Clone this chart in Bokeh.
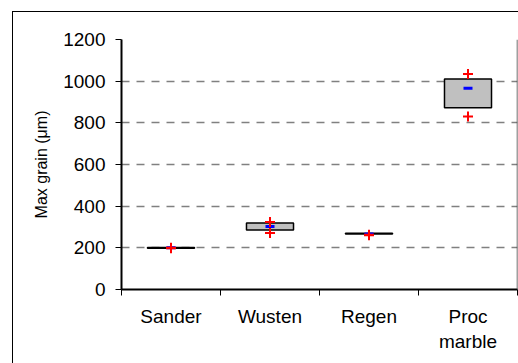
from bokeh.plotting import figure
from bokeh.models import FixedTicker, Range1d, Span
from bokeh.embed import file_html
from bokeh.resources import INLINE

categories = ["Sander", "Wusten", "Regen", "Proc\nmarble"]
q1 = [198, 286, 266, 872]
q3 = [202, 319, 270, 1010]
mean = [200, 303, 266, 966]
vmin = [198, 271, 261, 830]
vmax = [201, 324, 263, 1034]
y_ticks = [0, 200, 400, 600, 800, 1000, 1200]

xs = [i + 1 for i in range(len(categories))]

p = figure(width=506, height=352, output_backend="svg", toolbar_location=None,
           x_range=Range1d(0.5, 4.5), y_range=Range1d(0, 1200),
           min_border_left=108, min_border_right=2, min_border_top=27, min_border_bottom=75)
p.styles = {"margin-left": "12px", "margin-top": "11px",
            "border-left": "1.5px solid black", "border-top": "1.5px solid black"}
p.outline_line_color = None
p.background_fill_color = "white"
p.border_fill_color = "white"

# grid
p.xgrid.visible = False
p.ygrid.ticker = FixedTicker(ticks=[200, 400, 600, 800, 1000, 1200])
p.ygrid.grid_line_color = "#808080"
p.ygrid.grid_line_width = 1.6
p.ygrid.grid_line_dash = "8 7"

font = "Liberation Sans"
# y axis
ya = p.yaxis[0]
ya.ticker = FixedTicker(ticks=y_ticks)
ya.axis_line_color = "black"
ya.axis_line_width = 2
ya.major_tick_line_color = "black"
ya.major_tick_line_width = 1
ya.major_tick_out = 6
ya.major_tick_in = 0
ya.minor_tick_line_color = None
ya.major_label_text_font = font
ya.major_label_text_font_size = "19px"
ya.major_label_text_color = "black"
ya.major_label_standoff = 10
ya.axis_label = "Max grain (μm)"
ya.axis_label_text_font = font
ya.axis_label_text_font_size = "16px"
ya.axis_label_text_font_style = "normal"
ya.axis_label_text_color = "black"
ya.axis_label_standoff = 10

# x axis
xa = p.xaxis[0]
xa.ticker = FixedTicker(ticks=xs, minor_ticks=[0.5, 1.5, 2.5, 3.5, 4.5])
xa.major_label_overrides = {x: c for x, c in zip(xs, categories)}
xa.axis_line_color = "black"
xa.axis_line_width = 2
xa.major_tick_line_color = None
xa.major_tick_out = 0
xa.major_tick_in = 0
xa.minor_tick_line_color = "black"
xa.minor_tick_line_width = 1
xa.minor_tick_out = 6
xa.minor_tick_in = 0
xa.major_label_text_font = font
xa.major_label_text_font_size = "19px"
xa.major_label_text_color = "black"
xa.major_label_standoff = 10

# right border of plot area
p.add_layout(Span(location=4.5, dimension="height", line_color="#404040", line_width=1.5))

# boxes
p.vbar(x=xs, width=0.475, bottom=q1, top=q3, fill_color="#C0C0C0",
       line_color="black", line_width=1.5)
# mean
p.scatter(x=xs, y=mean, marker="dash", size=9, line_color="blue", line_width=3)
# min / max
p.scatter(x=xs, y=vmin, marker="cross", size=10, line_color="red", line_width=2)
p.scatter(x=xs, y=vmax, marker="cross", size=10, line_color="red", line_width=2)

open("out.html", "w").write(file_html(p, INLINE))
